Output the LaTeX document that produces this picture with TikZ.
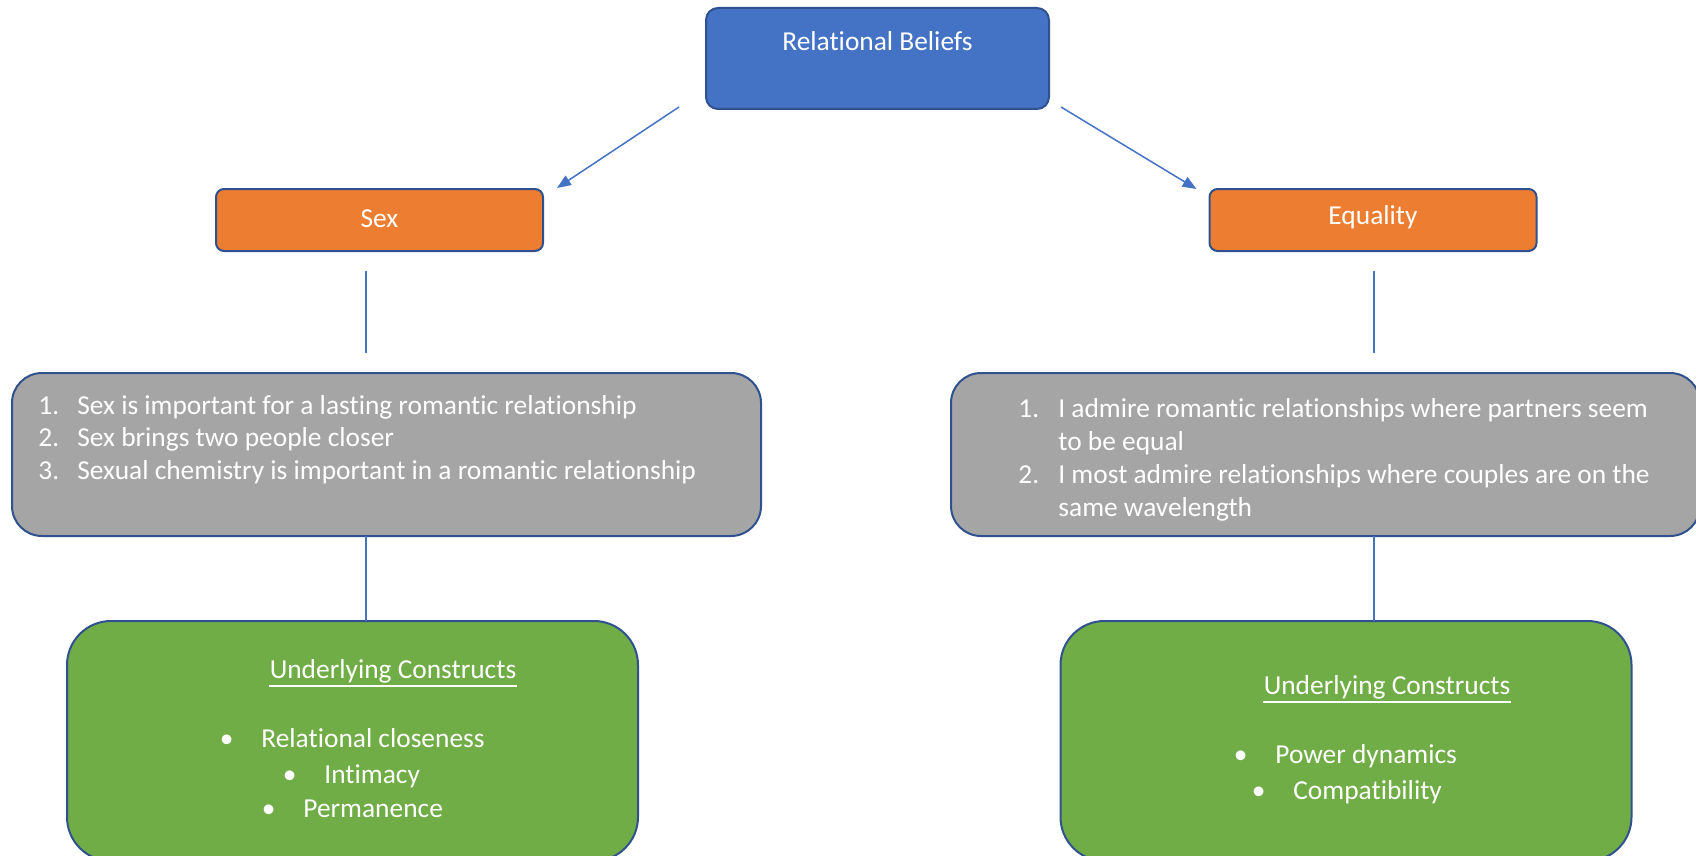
\documentclass[tikz,border=0pt]{standalone}
\usepackage{fontspec}
\setmainfont{Carlito}[Ligatures={NoCommon}]
\usetikzlibrary{arrows.meta,calc}
\definecolor{rbBlue}{HTML}{4472C4}
\definecolor{rbOrange}{HTML}{ED7D31}
\definecolor{rbGray}{HTML}{A5A5A5}
\definecolor{rbGreen}{HTML}{70AD47}
\definecolor{rbEdge}{HTML}{2F528F}
\newcommand\rbbul{\llap{\textbullet\hspace{14pt}}}
\begin{document}
\begin{tikzpicture}[x=0.5pt,y=-0.5pt,
  box/.style={draw=rbEdge,line width=1pt,inner sep=0pt,outer sep=0pt},
  txt/.style={text=white,inner sep=0pt,font=\fontsize{13.7}{16.25}\selectfont},
  link/.style={draw=rbBlue,line width=0.75pt},
  arr/.style={link,-{Triangle[length=7pt,width=5.5pt]}}]
\useasboundingbox (0,0) rectangle (1696,856);
\clip (0,0) rectangle (1696,856);
% boxes
\node[box,fill=rbBlue,rounded corners=6pt,minimum width=171.5pt,minimum height=50.5pt] (top) at (877.5,58.5) {};
\node[box,fill=rbOrange,rounded corners=4pt,minimum width=163.5pt,minimum height=31pt] (sex) at (379.5,220) {};
\node[box,fill=rbOrange,rounded corners=4pt,minimum width=163.5pt,minimum height=31pt] (eq) at (1373,220) {};
\node[box,fill=rbGray,rounded corners=15pt,minimum width=374.5pt,minimum height=81.5pt] (grayL) at (386.5,454.5) {};
\node[box,fill=rbGray,rounded corners=15pt,minimum width=374.5pt,minimum height=81.5pt] (grayR) at (1325.5,454.5) {};
\node[box,fill=rbGreen,rounded corners=22pt,minimum width=285.5pt,minimum height=120pt] (greenL) at (352.5,741) {};
\node[box,fill=rbGreen,rounded corners=22pt,minimum width=285.5pt,minimum height=120pt] (greenR) at (1346,741) {};
% texts
\node[txt,anchor=base] (topT) at (877.5,51) {Relational Beliefs};
\node[txt,anchor=base] (sexT) at (379.5,227) {Sex};
\node[txt,anchor=base] (eqT) at (1373,224) {Equality};
\node[txt,anchor=base west] (listL) at (38,414) {\begin{tabular}[t]{@{}p{19.5pt}@{}l@{}}1.&Sex is important for a lasting romantic relationship\\2.&Sex brings two people closer\\3.&Sexual chemistry is important in a romantic relationship\end{tabular}};
\node[txt,anchor=base west,font=\fontsize{13.7}{16.5}\selectfont] (listR) at (1018,417) {\begin{tabular}[t]{@{}p{20pt}@{}l@{}}1.&I admire romantic relationships where partners seem\\&to be equal\\2.&I most admire relationships where couples are on the\\&same wavelength\end{tabular}};
\node[txt,anchor=base] (ucL) at (393,678) {Underlying Constructs};
\draw[white,line width=1pt] ($(ucL.base west)+(0,8)$) -- ($(ucL.base east)+(0,8)$);
\node[txt,anchor=base] (ucR) at (1387,694) {Underlying Constructs};
\draw[white,line width=1pt] ($(ucR.base west)+(0,8)$) -- ($(ucR.base east)+(0,8)$);
\node[txt,anchor=base west] (b1) at (261,747) {\rbbul Relational closeness};
\node[txt,anchor=base west] (b2) at (324,783) {\rbbul Intimacy};
\node[txt,anchor=base west] (b3) at (303,817) {\rbbul Permanence};
\node[txt,anchor=base west] (b4) at (1275,763) {\rbbul Power dynamics};
\node[txt,anchor=base west] (b5) at (1293,799) {\rbbul Compatibility};
% connectors
\coordinate (cL) at (366,0);
\coordinate (cR) at (1374,0);
\draw[arr] ($(top.south west)+(-27,-2)$) -- ($(sex.north east)+(14,-1)$);
\draw[arr] ($(top.south east)+(12,-2)$) -- ($(eq.north west)+(-13,0)$);
\draw[link,shorten <=10pt,shorten >=10pt] (sex.south -| cL) -- (grayL.north -| cL);
\draw[link,shorten <=10pt,shorten >=10pt] (eq.south -| cR) -- (grayR.north -| cR);
\draw[link] (grayL.south -| cL) -- (greenL.north -| cL);
\draw[link] (grayR.south -| cR) -- (greenR.north -| cR);
\end{tikzpicture}
\end{document}
